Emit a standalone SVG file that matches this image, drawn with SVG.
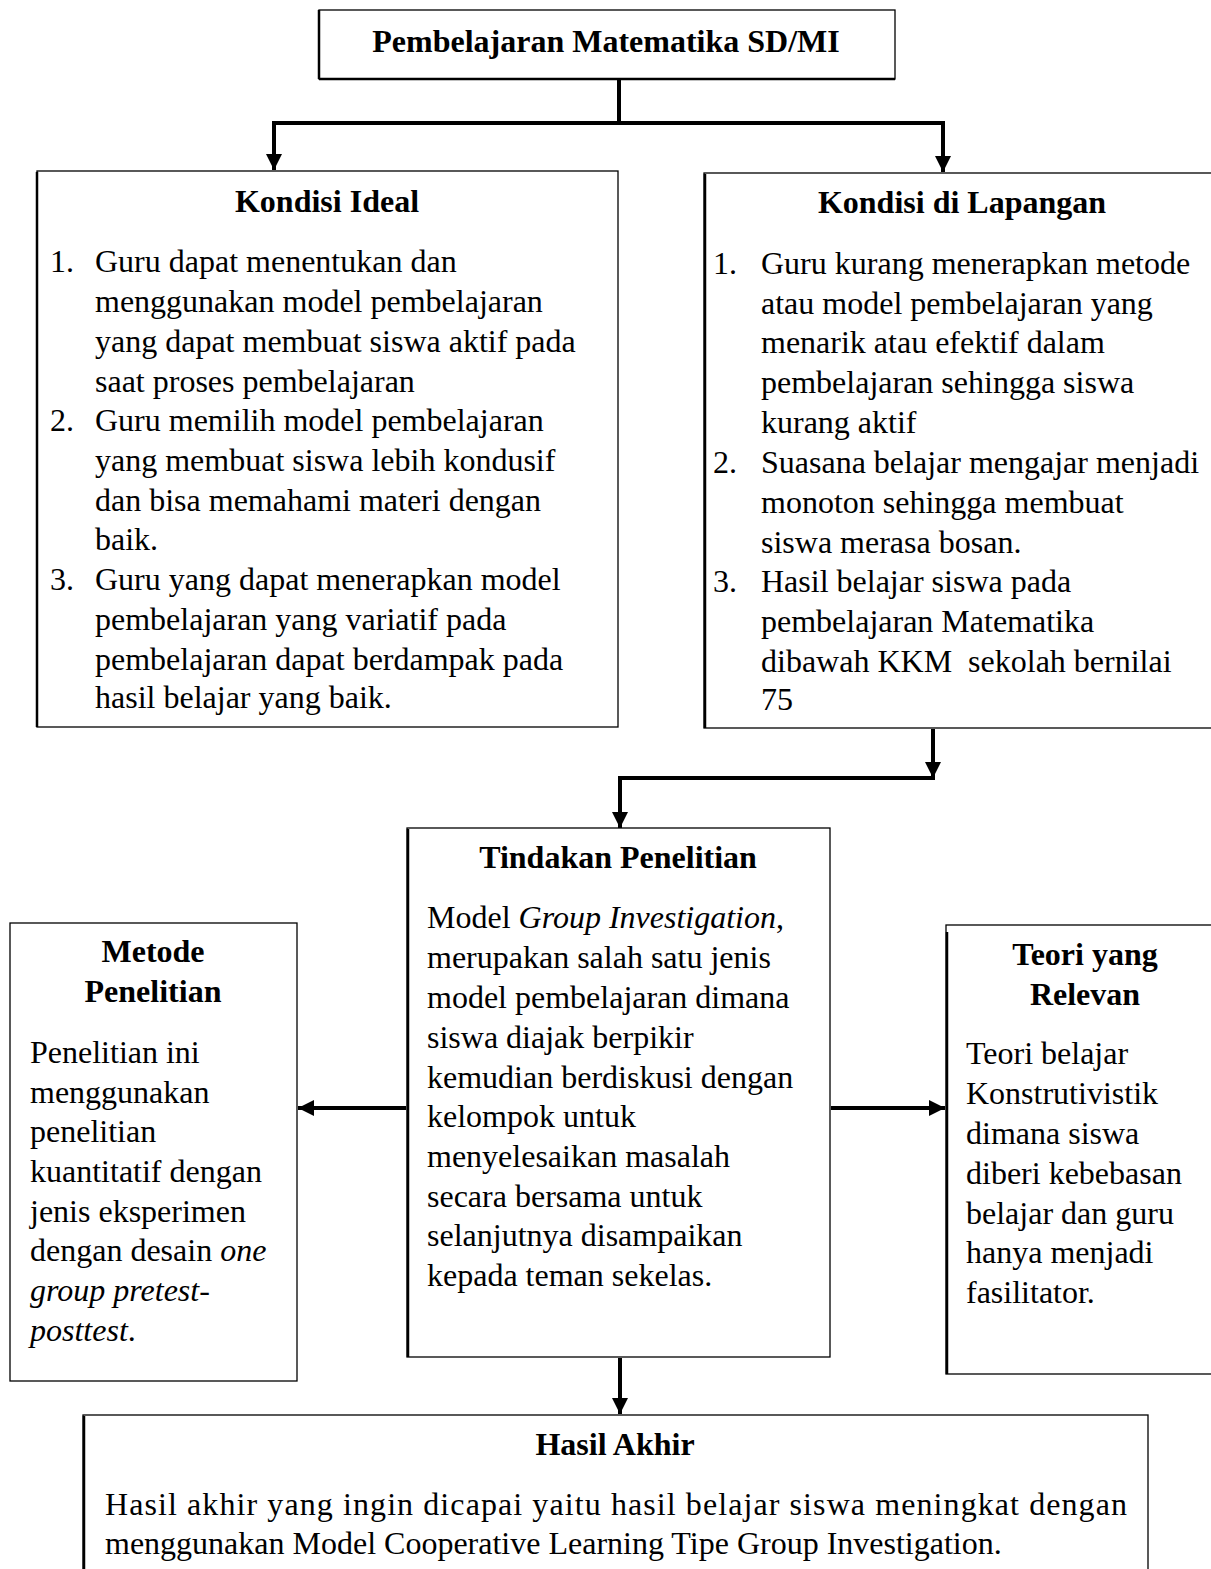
<svg xmlns="http://www.w3.org/2000/svg" width="1211" height="1569" viewBox="0 0 1211 1569">
<style>
.box{fill:#fff;stroke:#000;stroke-width:1.3}
.edge{stroke:#000;stroke-width:2.5}
.t{font-family:"Liberation Serif","Times New Roman",serif;font-size:32px;fill:#000}
.b{font-weight:bold;text-anchor:middle}
.c{stroke:#000;stroke-width:4;fill:none}
</style>
<defs>
<marker id="ah" viewBox="0 0 10 10" refX="10" refY="5" markerWidth="4" markerHeight="4" orient="auto" markerUnits="strokeWidth">
<path d="M0,0 L10,5 L0,10 z" fill="#000"/>
</marker>
</defs>
<rect width="1211" height="1569" fill="#fff"/>

<g id="connectors">
<path class="c" d="M619,80 V123"/>
<path class="c" d="M272,123 H945"/>
<path class="c" d="M274,123 V170" marker-end="url(#ah)"/>
<path class="c" d="M943,123 V172" marker-end="url(#ah)"/>
<path class="c" d="M933,729 V778" marker-end="url(#ah)"/>
<path class="c" d="M935,778 H620 V828" marker-end="url(#ah)"/>
<path class="c" d="M406,1108 H298" marker-end="url(#ah)"/>
<path class="c" d="M831,1108 H945" marker-end="url(#ah)"/>
<path class="c" d="M620,1358 V1414" marker-end="url(#ah)"/>
</g>

<g id="node-top">
<rect class="box" x="319" y="10" width="576" height="69"/>
<line class="edge" x1="319" y1="10" x2="319" y2="79"/>
<line class="edge" x1="319" y1="79" x2="895" y2="79"/>
<text class="t b" x="606" y="52">Pembelajaran Matematika SD/MI</text>
</g>

<g id="node-ideal">
<rect class="box" x="37" y="171" width="581" height="556"/>
<line class="edge" x1="37" y1="172" x2="37" y2="727"/>
<text class="t b" x="327" y="212">Kondisi Ideal</text>
<text class="t" x="50" y="272">1.</text>
<text class="t" x="95" y="272">Guru dapat menentukan dan</text>
<text class="t" x="95" y="312">menggunakan model pembelajaran</text>
<text class="t" x="95" y="352">yang dapat membuat siswa aktif pada</text>
<text class="t" x="95" y="392">saat proses pembelajaran</text>
<text class="t" x="50" y="431">2.</text>
<text class="t" x="95" y="431">Guru memilih model pembelajaran</text>
<text class="t" x="95" y="471">yang membuat siswa lebih kondusif</text>
<text class="t" x="95" y="511">dan bisa memahami materi dengan</text>
<text class="t" x="95" y="550">baik.</text>
<text class="t" x="50" y="590">3.</text>
<text class="t" x="95" y="590">Guru yang dapat menerapkan model</text>
<text class="t" x="95" y="630">pembelajaran yang variatif pada</text>
<text class="t" x="95" y="670">pembelajaran dapat berdampak pada</text>
<text class="t" x="95" y="708">hasil belajar yang baik.</text>
</g>

<g id="node-lapangan">
<rect class="box" x="704" y="173" width="520" height="555"/>
<line class="edge" x1="705" y1="174" x2="705" y2="728"/>
<text class="t b" x="962" y="213">Kondisi di Lapangan</text>
<text class="t" x="713" y="274">1.</text>
<text class="t" x="761" y="274">Guru kurang menerapkan metode</text>
<text class="t" x="761" y="314">atau model pembelajaran yang</text>
<text class="t" x="761" y="353">menarik atau efektif dalam</text>
<text class="t" x="761" y="393">pembelajaran sehingga siswa</text>
<text class="t" x="761" y="433">kurang aktif</text>
<text class="t" x="713" y="473">2.</text>
<text class="t" x="761" y="473">Suasana belajar mengajar menjadi</text>
<text class="t" x="761" y="513">monoton sehingga membuat</text>
<text class="t" x="761" y="553">siswa merasa bosan.</text>
<text class="t" x="713" y="592">3.</text>
<text class="t" x="761" y="592">Hasil belajar siswa pada</text>
<text class="t" x="761" y="632">pembelajaran Matematika</text>
<text class="t" x="761" y="672" xml:space="preserve">dibawah KKM  sekolah bernilai</text>
<text class="t" x="761" y="710">75</text>
</g>

<g id="node-tindakan">
<rect class="box" x="407" y="828" width="423" height="529"/>
<line class="edge" x1="408" y1="829" x2="408" y2="1357"/>
<text class="t b" x="618" y="868">Tindakan Penelitian</text>
<text class="t" x="427" y="928">Model <tspan font-style="italic">Group Investigation</tspan>,</text>
<text class="t" x="427" y="968">merupakan salah satu jenis</text>
<text class="t" x="427" y="1008">model pembelajaran dimana</text>
<text class="t" x="427" y="1048">siswa diajak berpikir</text>
<text class="t" x="427" y="1088">kemudian berdiskusi dengan</text>
<text class="t" x="427" y="1127">kelompok untuk</text>
<text class="t" x="427" y="1167">menyelesaikan masalah</text>
<text class="t" x="427" y="1207">secara bersama untuk</text>
<text class="t" x="427" y="1246">selanjutnya disampaikan</text>
<text class="t" x="427" y="1286">kepada teman sekelas.</text>
</g>

<g id="node-metode">
<rect class="box" x="10" y="923" width="287" height="458"/>
<text class="t b" x="153" y="962">Metode</text>
<text class="t b" x="153" y="1002">Penelitian</text>
<text class="t" x="30" y="1063">Penelitian ini</text>
<text class="t" x="30" y="1103">menggunakan</text>
<text class="t" x="30" y="1142">penelitian</text>
<text class="t" x="30" y="1182">kuantitatif dengan</text>
<text class="t" x="30" y="1222">jenis eksperimen</text>
<text class="t" x="30" y="1261">dengan desain <tspan font-style="italic">one</tspan></text>
<text class="t" x="30" y="1301" font-style="italic">group pretest-</text>
<text class="t" x="30" y="1341"><tspan font-style="italic">posttest</tspan>.</text>
</g>

<g id="node-teori">
<rect class="box" x="946" y="925" width="280" height="449"/>
<line class="edge" x1="947" y1="932" x2="947" y2="1374"/>
<text class="t b" x="1085" y="965">Teori yang</text>
<text class="t b" x="1085" y="1005">Relevan</text>
<text class="t" x="966" y="1064">Teori belajar</text>
<text class="t" x="966" y="1104">Konstrutivistik</text>
<text class="t" x="966" y="1144">dimana siswa</text>
<text class="t" x="966" y="1184">diberi kebebasan</text>
<text class="t" x="966" y="1224">belajar dan guru</text>
<text class="t" x="966" y="1263">hanya menjadi</text>
<text class="t" x="966" y="1303">fasilitator.</text>
</g>

<g id="node-hasil">
<rect class="box" x="83" y="1415" width="1065" height="170"/>
<line class="edge" x1="84" y1="1416" x2="84" y2="1569"/>
<text class="t b" x="615" y="1455">Hasil Akhir</text>
<text class="t" x="105" y="1515" textLength="1022" lengthAdjust="spacing">Hasil akhir yang ingin dicapai yaitu hasil belajar siswa meningkat dengan</text>
<text class="t" x="105" y="1554">menggunakan Model Cooperative Learning Tipe Group Investigation.</text>
</g>
</svg>
